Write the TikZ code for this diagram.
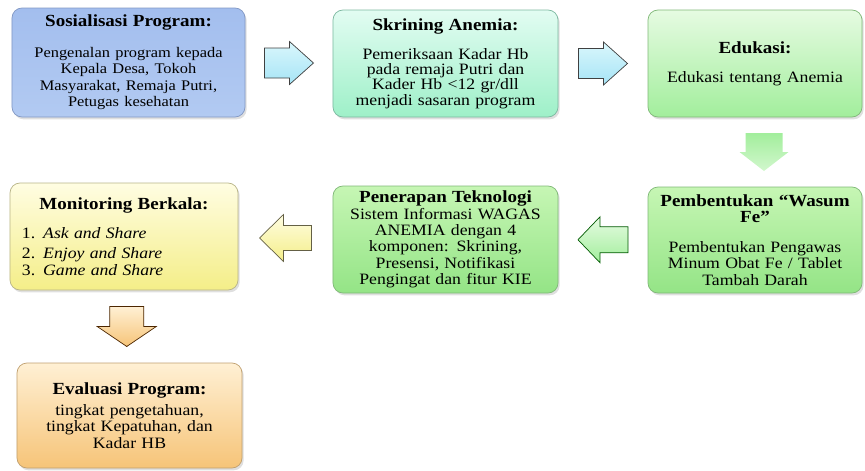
\documentclass[tikz,border=0pt]{standalone}
\usepackage{fontspec}
\setmainfont{Liberation Serif}[FakeStretch=1.12]
\usetikzlibrary{shadows,calc}

\definecolor{biruAtas}{HTML}{A3BEEE}
\definecolor{biruBawah}{HTML}{B2CAF2}
\definecolor{biruTepi}{HTML}{8298C4}
\definecolor{mintAtas}{HTML}{E2FCF2}
\definecolor{mintBawah}{HTML}{9EF0C8}
\definecolor{mintTepi}{HTML}{7CB8A0}
\definecolor{hijauMudaAtas}{HTML}{E6FBE2}
\definecolor{hijauMudaBawah}{HTML}{A2EE9C}
\definecolor{hijauAtas}{HTML}{C6F6B4}
\definecolor{hijauBawah}{HTML}{94E486}
\definecolor{hijauTepi}{HTML}{80B878}
\definecolor{kuningAtas}{HTML}{FFFDE2}
\definecolor{kuningBawah}{HTML}{F4EE88}
\definecolor{kuningTepi}{HTML}{B8B488}
\definecolor{oranyeAtas}{HTML}{FFF0D4}
\definecolor{oranyeBawah}{HTML}{F6C478}
\definecolor{oranyeTepi}{HTML}{C0A070}
\definecolor{cyanAtas}{HTML}{DAF7FC}
\definecolor{cyanBawah}{HTML}{A6E4F6}

\newcommand{\judul}[1]{{\fontsize{14.5}{15}\selectfont\bfseries #1}}

% panah blok: pusat, sudut, panjang, lebar kepala, lebar batang, panjang kepala, gaya
\NewDocumentCommand{\panahblok}{m m m m m m m}{
    \draw[#7, shift={(#1)}, rotate=#2]
        ({-#3/2},{-#5/2}) -- ({#3/2-#6},{-#5/2}) -- ({#3/2-#6},{-#4/2}) -- ({#3/2},0)
        -- ({#3/2-#6},{#4/2}) -- ({#3/2-#6},{#5/2}) -- ({-#3/2},{#5/2}) -- cycle;
}

\tikzset{
    langkah/.style={rectangle, rounded corners=0.3cm, line width=0.6pt, align=center,
        inner sep=0pt, font=\fontsize{13.5}{14}\selectfont,
        drop shadow={opacity=0.25, shadow xshift=0.05cm, shadow yshift=-0.07cm}},
    warna/.style n args={3}{top color=#1, bottom color=#2, draw=#3},
    panah/.style={line width=0.6pt, line join=miter},
    panahCyan/.style={panah, draw=black!75, top color=cyanAtas, bottom color=cyanBawah},
    panahPudar/.style={draw=none, top color=hijauMudaBawah, bottom color=hijauMudaAtas!70!hijauMudaBawah},
    panahHijau/.style={panah, draw=black!65!green, top color=hijauMudaAtas, bottom color=hijauMudaBawah},
    panahKuning/.style={panah, draw=black!70!yellow, top color=kuningAtas, bottom color=kuningBawah},
    panahOranye/.style={panah, draw=black!70!orange, top color=oranyeAtas, bottom color=oranyeBawah}
}

\begin{document}
\begin{tikzpicture}[x=0.03cm, y=-0.03cm]
    \useasboundingbox (0,0) rectangle (865,470);

    % baris atas
    \node[langkah, warna={biruAtas}{biruBawah}{biruTepi}, minimum width=6.99cm, minimum height=3.27cm, text width=6.6cm] (sos) at (128.5,62.5)
        {\judul{Sosialisasi Program:}\\[12pt] {\fontsize{12.5}{14}\selectfont Pengenalan program kepada\\ Kepala Desa, Tokoh\\ Masyarakat, Remaja Putri,\\ Petugas kesehatan}};
    \node[langkah, warna={mintAtas}{mintBawah}{mintTepi}, minimum width=6.75cm, minimum height=3.21cm, text width=6.4cm] (skr) at (445.5,63.5)
        {\judul{Skrining Anemia:}\\[12pt] {\baselineskip=13pt Pemeriksaan Kadar Hb\\ pada remaja Putri dan\\ Kader Hb <12 gr/dll\\ menjadi sasaran program\par}};
    \node[langkah, warna={hijauMudaAtas}{hijauMudaBawah}{hijauTepi}, minimum width=6.42cm, minimum height=3.21cm, text width=6.1cm] (edu) at (755,63.5)
        {\judul{Edukasi:}\\[11pt] Edukasi tentang Anemia};

    % baris tengah
    \node[langkah, warna={hijauAtas}{hijauBawah}{hijauTepi}, minimum width=6.42cm, minimum height=3.18cm, text width=6.1cm] (wasum) at (755,240)
        {\judul{Pembentukan “Wasum\\ Fe”}\\[11pt] Pembentukan Pengawas\\ Minum Obat Fe / Tablet\\ Tambah Darah};
    \node[langkah, warna={hijauAtas}{hijauBawah}{hijauTepi}, minimum width=6.75cm, minimum height=3.21cm, text width=6.4cm] (tek) at (445.5,239.5)
        {\judul{Penerapan Teknologi}\\ Sistem Informasi WAGAS\\ ANEMIA dengan 4\\ komponen: Skrining,\\ Presensi, Notifikasi\\ Pengingat dan fitur KIE};
    \node[langkah, warna={kuningAtas}{kuningBawah}{kuningTepi}, minimum width=6.84cm, minimum height=3.21cm, text width=6.12cm] (mon) at (124,236.5)
        {\judul{Monitoring Berkala:}\\[11pt]
         \makebox[\linewidth][l]{1. \textit{Ask and Share}}\\[3pt]
         \makebox[\linewidth][l]{2. \textit{Enjoy and Share}}\\
         \makebox[\linewidth][l]{3. \textit{Game and Share}}};

    % baris bawah
    \node[langkah, warna={oranyeAtas}{oranyeBawah}{oranyeTepi}, minimum width=6.75cm, minimum height=3.15cm, text width=6.4cm] (eva) at (129.5,415.5)
        {\judul{Evaluasi Program:}\\[4pt] tingkat pengetahuan,\\ tingkat Kepatuhan, dan\\ Kadar HB};

    % panah antar langkah
    \panahblok{$(sos.east)!0.5!(skr.west)$}{0}{49}{43}{30}{24}{panahCyan}
    \panahblok{$(skr.east)!0.5!(edu.west)$}{0}{49}{43}{30}{24}{panahCyan}
    \panahblok{$(edu.south)!0.5!(wasum.north)+(9,0)$}{-90}{38}{49}{37}{19}{panahPudar}
    \panahblok{$(tek.east)!0.5!(wasum.west)$}{180}{50}{46}{26}{22}{panahHijau}
    \panahblok{$(mon.east)!0.5!(tek.west)$}{180}{52}{47}{25}{24}{panahKuning}
    \panahblok{$(mon.south)!0.5!(eva.north)$}{-90}{40}{59}{34}{20}{panahOranye}
\end{tikzpicture}
\end{document}
